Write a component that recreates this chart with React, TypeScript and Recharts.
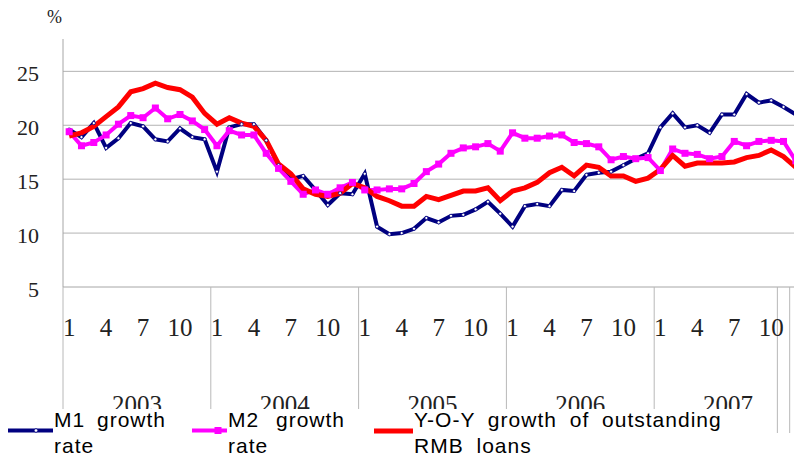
import React from "react";
import { LineChart, Line, XAxis, YAxis, CartesianGrid } from "recharts";

// monthly data, Jan 2003 .. Dec 2007
const m1Growth = [
  19.6, 18.9, 20.2, 17.9, 18.8, 20.2, 19.9, 18.7, 18.5, 19.7, 18.9, 18.7,
  15.7, 19.8, 20.1, 20.1, 18.6, 16.3, 15.0, 15.3, 14.0, 12.6, 13.7, 13.6,
  15.5, 10.6, 9.9, 10.0, 10.4, 11.4, 11.0, 11.6, 11.7, 12.2, 12.9, 11.8,
  10.6, 12.5, 12.7, 12.5, 14.0, 13.9, 15.4, 15.6, 15.7, 16.3, 16.9, 17.4,
  19.8, 21.1, 19.8, 20.0, 19.3, 21.0, 21.0, 22.9, 22.1, 22.3, 21.7, 21.0,
];
const m2Growth = [
  19.4, 18.1, 18.4, 19.1, 20.1, 20.9, 20.7, 21.6, 20.6, 21.0, 20.4, 19.6,
  18.1, 19.5, 19.1, 19.1, 17.4, 16.0, 14.8, 13.6, 14.0, 13.6, 14.2, 14.7,
  14.0, 14.0, 14.1, 14.1, 14.6, 15.7, 16.4, 17.4, 17.9, 18.0, 18.3, 17.6,
  19.3, 18.8, 18.8, 19.0, 19.1, 18.4, 18.3, 18.0, 16.8, 17.1, 16.9, 17.0,
  15.8, 17.8, 17.4, 17.3, 16.9, 17.1, 18.5, 18.1, 18.5, 18.6, 18.5, 16.7,
];
const loanGrowth = [
  19.0, 19.3, 19.9, 20.8, 21.7, 23.1, 23.4, 23.9, 23.5, 23.3, 22.6, 21.1,
  20.1, 20.7, 20.2, 19.9, 18.6, 16.4, 15.5, 14.1, 13.6, 13.4, 13.7, 14.6,
  14.2, 13.4, 13.0, 12.5, 12.5, 13.4, 13.1, 13.5, 13.9, 13.9, 14.2, 13.0,
  13.9, 14.2, 14.7, 15.6, 16.1, 15.3, 16.3, 16.1, 15.3, 15.3, 14.8, 15.1,
  15.9, 17.2, 16.2, 16.5, 16.5, 16.5, 16.6, 17.0, 17.2, 17.7, 17.1, 16.1,
];
const years = [2003, 2004, 2005, 2006, 2007];
const monthLabels = [1, 4, 7, 10];
const yTicks = [5, 10, 15, 20, 25];

const data = m1Growth.map((v, i) => ({
  i,
  m1: v,
  m2: m2Growth[i],
  loans: loanGrowth[i],
}));

const monthTicks: number[] = [];
years.forEach((_, y) => monthLabels.forEach((m) => monthTicks.push(y * 12 + m - 1)));
const yearTicks = years.map((_, y) => y * 12 + 5.5);
const sepTicks = [...years.map((_, y) => y * 12 - 0.5), 57.5, 58.5];

const serif = "Liberation Serif, DejaVu Serif, serif";
const sans = "Liberation Sans, Arial, sans-serif";

const M1Dot = (p: any) => (
  <circle key={`d${p.index}`} cx={p.cx} cy={p.cy} r={1.6} fill="#fff" stroke="#000080" strokeWidth={0.8} />
);
const M2Dot = (p: any) => (
  <rect key={`s${p.index}`} x={p.cx - 3.5} y={p.cy - 3.5} width={7} height={7} fill="#ff00ff" />
);
// year separators hang below the axis, through the label area
const SepTick = (p: any) => (
  <line x1={p.x} x2={p.x} y1={p.y} y2={p.y + 146} stroke="#b8b8b8" strokeWidth={1} />
);

const legendText = { position: "absolute" as const, top: -2, lineHeight: "26px", letterSpacing: 1 };

export default function App() {
  return (
    <div style={{ position: "absolute", left: 0, top: 0, width: 794, height: 459, overflow: "hidden", background: "#fff" }}>
      <div style={{ position: "absolute", left: 47, top: 7, fontFamily: serif, fontSize: 18, color: "#222" }}>%</div>
      <LineChart width={810} height={459} data={data} margin={{ top: 39, right: 8, left: 0, bottom: 0 }}>
        <CartesianGrid vertical={false} horizontalValues={[10, 15, 20, 25]} stroke="#b3b3b3" />
        <YAxis
          type="number"
          domain={[5, 28]}
          ticks={yTicks}
          width={63}
          allowDataOverflow
          stroke="#a6a6a6"
          tickLine={false}
          tickSize={0}
          tickMargin={24}
          tick={{ fontSize: 22, fontFamily: serif, fill: "#222", dy: 2 }}
        />
        <XAxis
          xAxisId="a_sep"
          type="number"
          dataKey="i"
          domain={[-0.5, 59.5]}
          ticks={sepTicks}
          interval={0}
          allowDataOverflow
          height={1}
          stroke="#a6a6a6"
          tickLine={false}
          tickSize={0}
          tickMargin={0}
          tick={SepTick}
        />
        <XAxis
          xAxisId="b_month"
          type="number"
          dataKey="i"
          domain={[-0.5, 59.5]}
          ticks={monthTicks}
          interval={0}
          allowDataOverflow
          height={59}
          axisLine={false}
          tickLine={false}
          tickSize={0}
          tickMargin={30}
          tick={{ fontSize: 25, fontFamily: serif, fill: "#222" }}
          tickFormatter={(v: number) => String((v % 12) + 1)}
        />
        <XAxis
          xAxisId="c_year"
          type="number"
          dataKey="i"
          domain={[-0.5, 59.5]}
          ticks={yearTicks}
          interval={0}
          allowDataOverflow
          height={112}
          axisLine={false}
          tickLine={false}
          tickSize={0}
          tickMargin={48}
          tick={{ fontSize: 25, fontFamily: serif, fill: "#222" }}
          tickFormatter={(v: number) => String(years[Math.floor(v / 12)])}
        />
        <Line xAxisId="b_month" type="linear" dataKey="m1" stroke="#000080" strokeWidth={4} dot={M1Dot} isAnimationActive={false} />
        <Line xAxisId="b_month" type="linear" dataKey="m2" stroke="#ff00ff" strokeWidth={4} dot={M2Dot} isAnimationActive={false} />
        <Line xAxisId="b_month" type="linear" dataKey="loans" stroke="#ff0000" strokeWidth={5} dot={false} isAnimationActive={false} />
      </LineChart>

      {/* legend */}
      <div style={{ position: "absolute", left: 0, top: 409, width: 772, height: 50, background: "#fff", fontFamily: sans, fontSize: 21, color: "#000" }}>
        <svg width={772} height={50} style={{ position: "absolute", left: 0, top: 0 }}>
          <line x1={8} y1={21.5} x2={53} y2={21.5} stroke="#000080" strokeWidth={4} />
          <circle cx={36} cy={21.5} r={1.8} fill="#fff" stroke="#000080" strokeWidth={0.8} />
          <line x1={192} y1={21.5} x2={227} y2={21.5} stroke="#ff00ff" strokeWidth={4} />
          <rect x={214.5} y={18} width={7} height={7} fill="#ff00ff" />
          <line x1={374} y1={22} x2={413} y2={22} stroke="#ff0000" strokeWidth={5} />
        </svg>
        <div style={{ ...legendText, left: 54, wordSpacing: 5 }}>M1 growth<br />rate</div>
        <div style={{ ...legendText, left: 228, wordSpacing: 10 }}>M2 growth<br />rate</div>
        <div style={{ ...legendText, left: 414, wordSpacing: 6 }}>Y-O-Y growth of outstanding<br />RMB loans</div>
      </div>
    </div>
  );
}
